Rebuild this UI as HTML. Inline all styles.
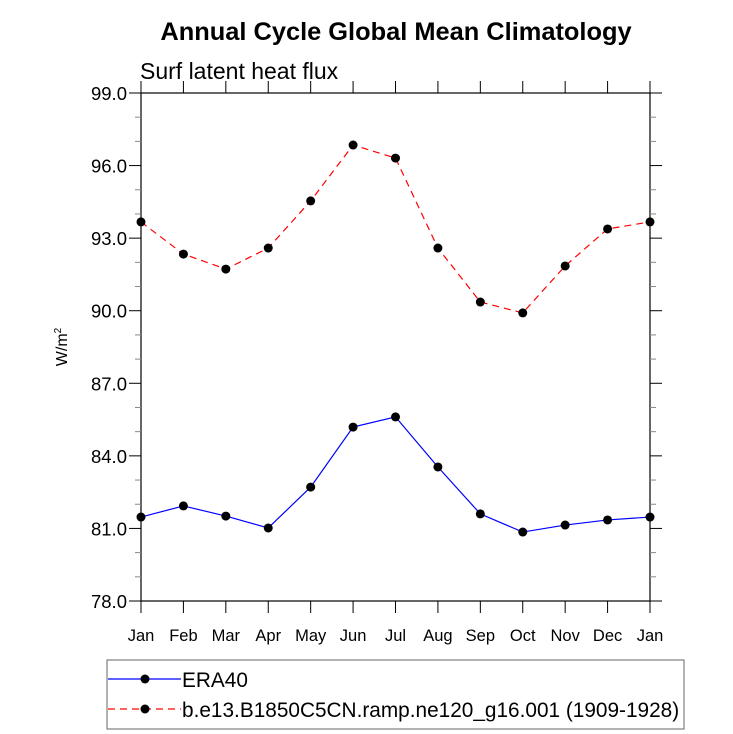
<!DOCTYPE html>
<html><head><meta charset="utf-8"><style>body{margin:0;background:#fff}svg{display:block}text{font-family:"Liberation Sans",sans-serif}</style></head>
<body>
<svg id="c" width="733" height="734" xmlns="http://www.w3.org/2000/svg">
<text x="396" y="40" text-anchor="middle" font-size="25.4" font-weight="bold">Annual Cycle Global Mean Climatology</text>
<text x="140" y="79" font-size="23">Surf latent heat flux</text>
<text transform="translate(67,347) rotate(-90)" text-anchor="middle" font-size="16">W/m<tspan font-size="10" dy="-6">2</tspan></text>
<g id="axes"></g><g id="series"></g>
<g>
<rect x="107" y="660" width="577" height="69" fill="none" stroke="#666" stroke-width="1"/>
<line x1="108" y1="679" x2="181" y2="679" stroke="#00f" stroke-width="1.2"/>
<circle cx="145" cy="679" r="4.5" fill="#000"/>
<text x="182" y="687" font-size="20.8">ERA40</text>
<line x1="108" y1="709" x2="181" y2="709" stroke="#f00" stroke-width="1.2" stroke-dasharray="7,5"/>
<circle cx="145" cy="709" r="4.5" fill="#000"/>
<text x="182" y="717" font-size="20.8">b.e13.B1850C5CN.ramp.ne120_g16.001 (1909-1928)</text>
</g>
</svg>
<script>
const months=["Jan","Feb","Mar","Apr","May","Jun","Jul","Aug","Sep","Oct","Nov","Dec","Jan"];
const yTicks=[78,81,84,87,90,93,96,99];
const era40=[81.47,81.93,81.51,81.02,82.71,85.19,85.61,83.54,81.60,80.85,81.14,81.35,81.47];
const model=[93.67,92.34,91.72,92.59,94.54,96.85,96.31,92.59,90.36,89.91,91.85,93.38,93.67];
const L=141,R=650,T=93,B=601,ymin=78,ymax=99;
const xs=i=>L+(R-L)*i/12, ys=v=>B-(v-ymin)/(ymax-ymin)*(B-T);
const NS="http://www.w3.org/2000/svg";
function mk(p,tag,a){const e=document.createElementNS(NS,tag);for(const k in a)e.setAttribute(k,a[k]);p.appendChild(e);return e;}
const ax=document.getElementById('axes');
const fr=mk(ax,'rect',{x:L,y:T,width:R-L,height:B-T,fill:'none',stroke:'#000','stroke-width':1.2});


for(let v=ymin;v<=ymax;v+=1){const y=ys(v),major=yTicks.includes(v),len=major?12:6;
 mk(ax,'line',{x1:L-len,y1:y,x2:L,y2:y,stroke:major?'#000':'#888'});mk(ax,'line',{x1:R,y1:y,x2:R+len,y2:y,stroke:major?'#000':'#888'});}
yTicks.forEach(v=>{const t=mk(ax,'text',{x:L-14,y:ys(v)+7,'text-anchor':'end','font-size':18.5});t.textContent=v.toFixed(1);
 
 });
months.forEach((m,i)=>{const x=xs(i);mk(ax,'line',{x1:x,y1:B,x2:x,y2:B+12,stroke:'#000'});mk(ax,'line',{x1:x,y1:T-12,x2:x,y2:T,stroke:'#000'});
 const t=mk(ax,'text',{x:x,y:B+40,'text-anchor':'middle','font-size':16.5});t.textContent=m;
 
 });
const sg=document.getElementById('series');
function draw(vals,color,dash,name){
 const pl=mk(sg,'polyline',{points:vals.map((v,i)=>xs(i)+','+ys(v)).join(' '),fill:'none',stroke:color,'stroke-width':1.2});
 if(dash)pl.setAttribute('stroke-dasharray',dash);
 
 
 vals.forEach((v,i)=>{const c=mk(sg,'circle',{cx:xs(i),cy:ys(v),r:4.5,fill:'#000'});
  
  });
}
draw(era40,'#00f',null,'era40');
draw(model,'#f00','7,5','model');
</script>
</body></html>
